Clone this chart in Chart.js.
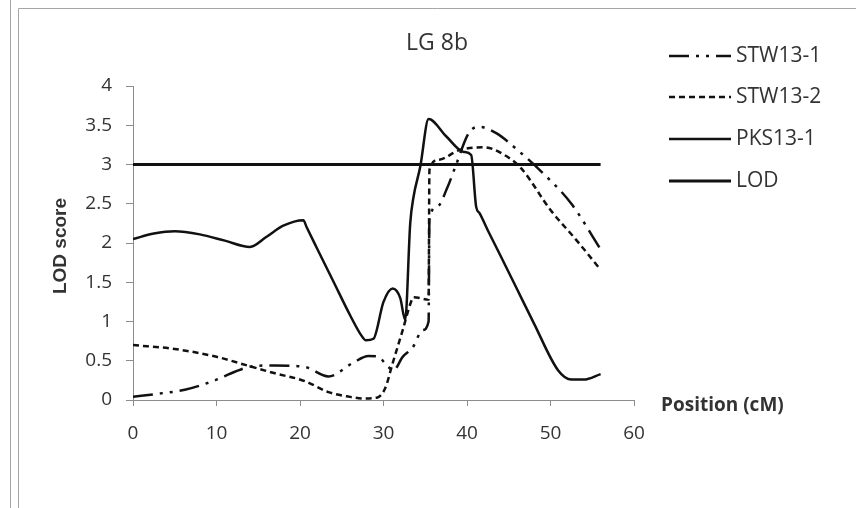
<!DOCTYPE html>
<html>
<head>
<meta charset="utf-8">
<script src="https://cdn.jsdelivr.net/npm/chart.js@4.4.1/dist/chart.umd.min.js"></script>
<style>
  html, body { margin: 0; padding: 0; background: #fff; }
  #wrap { width: 856px; height: 508px; position: relative; }
</style>
</head>
<body>
<div id="wrap"><canvas id="c" width="856" height="508"></canvas></div>
<script>
// ---- data ----
const chartTitle = "LG 8b";
const xAxisTitle = "Position (cM)";
const yAxisTitle = "LOD score";
const seriesNames = ["STW13-1", "STW13-2", "PKS13-1", "LOD"];

const xTickValues = [0, 10, 20, 30, 40, 50, 60];
const yTickValues = [0, 0.5, 1, 1.5, 2, 2.5, 3, 3.5, 4];

const stw131X = [0, 3, 6.2, 9.8, 12.2, 14.3, 17, 20.6, 23.4, 26.3, 28.2, 29.4, 30.4, 31.2, 32.3, 33.5, 34.7, 35.4, 35.5, 36.4, 37.7, 38.6, 40.2, 41.4, 43.5, 46.1, 48.9, 52.5, 56];
const stw131Y = [0.04, 0.08, 0.13, 0.25, 0.36, 0.43, 0.44, 0.42, 0.30, 0.47, 0.56, 0.55, 0.44, 0.38, 0.55, 0.67, 0.89, 1.00, 2.30, 2.46, 2.72, 2.97, 3.40, 3.48, 3.40, 3.18, 2.91, 2.50, 1.92];

const stw132X = [0, 5, 10, 14, 17, 20.6, 23.4, 26, 27.5, 29.2, 30.2, 31.1, 32.3, 33.2, 33.6, 35.4, 35.5, 36.6, 39, 42, 44.5, 46.5, 50, 53, 56];
const stw132Y = [0.70, 0.65, 0.55, 0.43, 0.34, 0.24, 0.10, 0.04, 0.02, 0.03, 0.15, 0.47, 0.89, 1.22, 1.31, 1.28, 2.93, 3.06, 3.18, 3.22, 3.12, 2.95, 2.42, 2.05, 1.66];

const pks131X = [0, 2.5, 5, 8, 11, 14, 16, 18, 20.4, 20.8, 22, 24, 26, 27.3, 27.9, 28.8, 30, 31.1, 32, 32.6, 33.2, 33.6, 34.4, 35.4, 37.5, 39.6, 40.5, 41.1, 41.5, 42.5, 44, 46, 48, 50.9, 52.5, 54, 56];
const pks131Y = [2.05, 2.12, 2.15, 2.11, 2.03, 1.95, 2.08, 2.22, 2.29, 2.20, 1.94, 1.51, 1.08, 0.83, 0.76, 0.78, 1.25, 1.42, 1.30, 1.02, 2.25, 2.59, 2.97, 3.58, 3.36, 3.16, 3.12, 2.46, 2.38, 2.16, 1.84, 1.41, 0.98, 0.38, 0.26, 0.26, 0.33];

const lodX = [0, 56];
const lodY = [3, 3];

// ---- styles ----
const ink = '#111';
const dashSTW131 = [20, 7, 3, 7, 3, 7];
const dashSTW132 = [6, 4];
const seriesDash = [dashSTW131, dashSTW132, [], []];
const seriesWidth = [2.5, 2.5, 2.5, 3];

function pts(xs, ys) { return xs.map((x, i) => ({ x: x, y: ys[i] })); }
const seriesData = [pts(stw131X, stw131Y), pts(stw132X, stw132Y), pts(pks131X, pks131Y), pts(lodX, lodY)];

const datasets = seriesNames.map((name, i) => ({
  label: name,
  data: seriesData[i],
  borderColor: ink,
  borderWidth: seriesWidth[i],
  borderDash: seriesDash[i],
  borderCapStyle: 'butt',
  pointRadius: 0,
  fill: false,
  showLine: true,
  cubicInterpolationMode: i === 3 ? 'default' : 'monotone',
  tension: i === 3 ? 0 : 0.4
}));

const textColor = '#333';
const tickFont = { family: 'Open Sans', size: 19 };

const decor = {
  id: 'decor',
  beforeDraw(chart) {
    const ctx = chart.ctx;
    ctx.save();
    ctx.fillStyle = '#fff';
    ctx.fillRect(0, 0, chart.width, chart.height);
    ctx.strokeStyle = '#a6a6a6';
    ctx.lineWidth = 1;
    ctx.beginPath();
    ctx.moveTo(10.5, 0); ctx.lineTo(10.5, 508);
    ctx.moveTo(18.5, 508); ctx.lineTo(18.5, 8.5); ctx.lineTo(856, 8.5);
    ctx.stroke();
    ctx.restore();
  },
  afterDraw(chart) {
    const ctx = chart.ctx;
    ctx.save();
    ctx.fillStyle = textColor;
    // title
    ctx.font = '23px "Open Sans"';
    ctx.textAlign = 'center';
    ctx.textBaseline = 'middle';
    ctx.fillText(chartTitle, 437, 43);
    // x axis title
    ctx.font = 'bold 19px "Open Sans"';
    ctx.textAlign = 'left';
    ctx.fillText(xAxisTitle, 661, 406);
    // y axis title
    ctx.save();
    ctx.translate(61, 246);
    ctx.rotate(-Math.PI / 2);
    ctx.font = 'bold 19px "Liberation Sans"';
    ctx.textAlign = 'center';
    ctx.fillText(yAxisTitle, 0, 0);
    ctx.restore();
    // legend
    const rows = [56, 97, 139, 181];
    ctx.font = '21px "Open Sans"';
    ctx.textAlign = 'left';
    seriesNames.forEach((name, i) => {
      ctx.save();
      ctx.strokeStyle = ink;
      ctx.lineWidth = seriesWidth[i];
      ctx.lineCap = 'butt';
      ctx.setLineDash(seriesDash[i]);
      ctx.beginPath();
      ctx.moveTo(669, rows[i]);
      ctx.lineTo(731, rows[i]);
      ctx.stroke();
      ctx.restore();
      ctx.fillText(name, 736, rows[i]);
    });
    ctx.restore();
  }
};

new Chart(document.getElementById('c'), {
  type: 'scatter',
  data: { datasets: datasets },
  options: {
    responsive: false,
    animation: false,
    layout: { padding: { left: 0, right: 222, top: 86, bottom: 0 } },
    plugins: { legend: { display: false }, title: { display: false }, tooltip: { enabled: false } },
    scales: {
      x: {
        type: 'linear',
        min: 0, max: 60,
        afterFit(s) { s.height = 108; },
        afterBuildTicks(s) { s.ticks = xTickValues.map(v => ({ value: v })); },
        border: { display: true, color: '#8c8c8c', width: 1 },
        grid: { display: true, drawOnChartArea: false, drawTicks: true, tickLength: 6, color: '#8c8c8c' },
        ticks: { color: textColor, font: tickFont, padding: 16, maxRotation: 0, autoSkip: false, callback: v => String(v) }
      },
      y: {
        type: 'linear',
        min: 0, max: 4,
        afterFit(s) { s.width = 133; },
        afterBuildTicks(s) { s.ticks = yTickValues.map(v => ({ value: v })); },
        border: { display: true, color: '#8c8c8c', width: 1 },
        grid: { display: true, drawOnChartArea: false, drawTicks: true, tickLength: 7, color: '#8c8c8c' },
        ticks: { color: textColor, font: tickFont, padding: 14, autoSkip: false, callback: v => String(v) }
      }
    }
  },
  plugins: [decor]
});
</script>
</body>
</html>
